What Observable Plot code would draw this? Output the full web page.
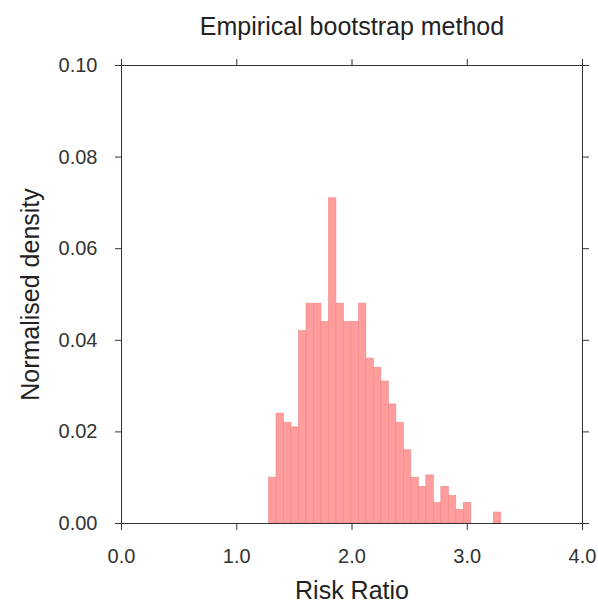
<!DOCTYPE html>
<html>
<head>
<meta charset="utf-8">
<script src="https://cdn.jsdelivr.net/npm/d3@7"></script>
<script src="https://cdn.jsdelivr.net/npm/@observablehq/plot@0.6"></script>
<style>
  html, body { margin: 0; padding: 0; background: #fff; }
  svg { display: block; }
</style>
</head>
<body>
<div id="chart"></div>
<script>
// Bin edges (Risk Ratio)
const binEdges = [1.280, 1.345, 1.410, 1.475, 1.540, 1.605, 1.670, 1.735, 1.800, 1.865,
                  1.930, 1.995, 2.060, 2.125, 2.190, 2.255, 2.320, 2.385, 2.450, 2.515,
                  2.580, 2.645, 2.710, 2.775, 2.840, 2.905, 2.970, 3.035, 3.100, 3.165,
                  3.230, 3.295];
// Normalised density per bin
const density = [0.010, 0.024, 0.022, 0.021, 0.042, 0.048, 0.048, 0.044, 0.071, 0.048,
                 0.044, 0.044, 0.048, 0.036, 0.034, 0.031, 0.026, 0.022, 0.016, 0.010,
                 0.008, 0.0105, 0.0045, 0.008, 0.006, 0.003, 0.0045, 0, 0, 0,
                 0.0024];
const xTicks = [0, 1, 2, 3, 4];
const yTicks = [0, 0.02, 0.04, 0.06, 0.08, 0.10];
const title = "Empirical bootstrap method";
const xLabel = "Risk Ratio";
const yLabel = "Normalised density";

const bins = density.map((d, i) => ({x1: binEdges[i], x2: binEdges[i + 1], y: d}));

const font = "Liberation Sans, Arial, Helvetica, sans-serif";
const ink = "#333";

const chart = Plot.plot({
  width: 598,
  height: 606,
  marginTop: 65,
  marginBottom: 83,
  marginLeft: 121,
  marginRight: 16,
  style: {fontFamily: font, background: "#fff", color: ink, overflow: "visible"},
  x: {domain: [0, 4]},
  y: {domain: [0, 0.1]},
  marks: [
    Plot.rectY(bins, {x1: "x1", x2: "x2", y: "y", fill: "#ff9c9c", stroke: "#f08888", strokeWidth: 0.6, inset: 0}),
    Plot.frame({stroke: ink, strokeWidth: 1}),
    Plot.axisX({ticks: xTicks, tickFormat: d3.format(".1f"), tickSize: 7, tickPadding: 18, fontSize: 20, label: null, stroke: ink}),
    Plot.axisX({anchor: "top", ticks: xTicks, tickFormat: () => "", tickSize: 7, label: null, stroke: ink}),
    Plot.axisY({ticks: yTicks, tickFormat: d3.format(".2f"), tickSize: 6, tickPadding: 18, fontSize: 20, label: null, stroke: ink}),
    Plot.axisY({anchor: "right", ticks: yTicks, tickFormat: () => "", tickSize: 6, label: null, stroke: ink}),
    Plot.text([title], {frameAnchor: "top", lineAnchor: "middle", dy: -39, fontSize: 25, fill: "#222"}),
    Plot.text([xLabel], {frameAnchor: "bottom", lineAnchor: "middle", dy: 67, fontSize: 25, fill: "#222"}),
    Plot.text([yLabel], {frameAnchor: "left", lineAnchor: "middle", textAnchor: "middle", dx: -91, rotate: -90, fontSize: 25, fill: "#222"})
  ]
});
document.getElementById("chart").appendChild(chart);
</script>
</body>
</html>
